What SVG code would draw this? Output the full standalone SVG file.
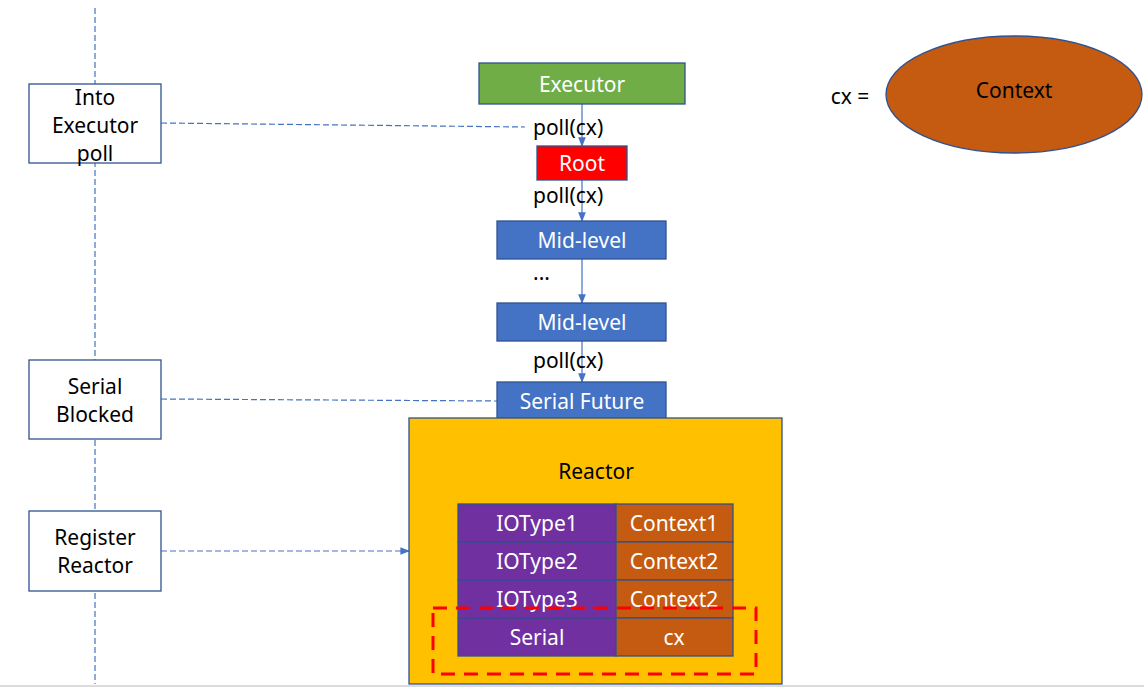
<svg xmlns="http://www.w3.org/2000/svg" width="1144" height="687" viewBox="0 0 1144 687">
<style>
text{font-family:"Noto Sans","Liberation Sans",sans-serif;font-size:21px;text-anchor:middle;dominant-baseline:central}
.w{fill:#fff}
.k{fill:#000}
.lbl{text-anchor:start}
.box{stroke:#2F528F;stroke-width:1.3}
.side{fill:#fff;stroke:#2F528F;stroke-width:1.3}
.dash{stroke:#4472C4;stroke-width:1.2;stroke-dasharray:6 3;fill:none}
.arr{stroke:#4472C4;stroke-width:1.2;fill:none}
</style>
<defs>
<marker id="ah" viewBox="0 0 10 10" refX="9" refY="5" markerWidth="8" markerHeight="8" orient="auto">
<path d="M0,1 L10,5 L0,9 z" fill="#4472C4"/>
</marker>
</defs>
<rect width="1144" height="687" fill="#fff"/>
<line x1="0" y1="686" x2="1144" y2="686" stroke="#d0d0d0" stroke-width="1.5"/>

<g id="connectors">
<line class="dash" x1="95" y1="8" x2="95" y2="684"/>
<line class="dash" x1="161" y1="123" x2="525" y2="127"/>
<line class="dash" x1="161" y1="399" x2="497" y2="401"/>
<line class="dash" x1="161" y1="551" x2="409" y2="551" marker-end="url(#ah)"/>
<line class="arr" x1="582" y1="104" x2="582" y2="146" marker-end="url(#ah)"/>
<line class="arr" x1="582" y1="180" x2="582" y2="221" marker-end="url(#ah)"/>
<line class="arr" x1="582" y1="259" x2="582" y2="303" marker-end="url(#ah)"/>
<line class="arr" x1="582" y1="341" x2="582" y2="382" marker-end="url(#ah)"/>
<text class="k lbl" x="533" y="127">poll(cx)</text>
<text class="k lbl" x="533" y="195">poll(cx)</text>
<text class="k lbl" x="533" y="272">...</text>
<text class="k lbl" x="533" y="360">poll(cx)</text>
</g>

<g id="into-executor-poll">
<rect class="side" x="29" y="84" width="132" height="79"/>
<text class="k" x="95" y="97">Into</text>
<text class="k" x="95" y="125">Executor</text>
<text class="k" x="95" y="153">poll</text>
</g>
<g id="serial-blocked">
<rect class="side" x="29" y="360" width="132" height="79"/>
<text class="k" x="95" y="386">Serial</text>
<text class="k" x="95" y="414">Blocked</text>
</g>
<g id="register-reactor">
<rect class="side" x="29" y="511" width="132" height="80"/>
<text class="k" x="95" y="537">Register</text>
<text class="k" x="95" y="565">Reactor</text>
</g>

<g id="executor">
<rect class="box" x="479" y="63" width="206" height="41" fill="#70AD47"/>
<text class="w" x="582" y="84">Executor</text>
</g>
<g id="root">
<rect class="box" x="537" y="146" width="90" height="34" fill="#FF0000"/>
<text class="w" x="582" y="163">Root</text>
</g>
<g id="mid-level-1">
<rect class="box" x="497" y="221" width="169" height="38" fill="#4472C4"/>
<text class="w" x="582" y="240">Mid-level</text>
</g>
<g id="mid-level-2">
<rect class="box" x="497" y="303" width="169" height="38" fill="#4472C4"/>
<text class="w" x="582" y="322">Mid-level</text>
</g>
<g id="serial-future">
<rect class="box" x="497" y="382" width="169" height="38" fill="#4472C4"/>
<text class="w" x="582" y="401">Serial Future</text>
</g>

<g id="context">
<text class="k" x="850" y="96">cx =</text>
<ellipse cx="1014" cy="94.5" rx="128" ry="58.5" fill="#C55A11" stroke="#2F528F" stroke-width="1.3"/>
<text class="k" x="1014" y="90">Context</text>
</g>

<g id="reactor">
<rect class="box" x="409" y="418" width="373" height="266" fill="#FFC000"/>
<text class="k" x="596" y="471">Reactor</text>
<g id="table">
<rect class="box" x="458" y="504" width="158" height="38" fill="#7030A0"/>
<rect class="box" x="616" y="504" width="117" height="38" fill="#C55A11"/>
<rect class="box" x="458" y="542" width="158" height="38" fill="#7030A0"/>
<rect class="box" x="616" y="542" width="117" height="38" fill="#C55A11"/>
<rect class="box" x="458" y="580" width="158" height="38" fill="#7030A0"/>
<rect class="box" x="616" y="580" width="117" height="38" fill="#C55A11"/>
<rect class="box" x="458" y="618" width="158" height="38" fill="#7030A0"/>
<rect class="box" x="616" y="618" width="117" height="38" fill="#C55A11"/>
<text class="w" x="537" y="523">IOType1</text>
<text class="w" x="674" y="523">Context1</text>
<text class="w" x="537" y="561">IOType2</text>
<text class="w" x="674" y="561">Context2</text>
<text class="w" x="537" y="599">IOType3</text>
<text class="w" x="674" y="599">Context2</text>
<text class="w" x="537" y="637">Serial</text>
<text class="w" x="674" y="637">cx</text>
</g>
<rect x="433" y="608" width="323" height="66" fill="none" stroke="#FF0000" stroke-width="3" stroke-dasharray="14 9"/>
</g>
</svg>
